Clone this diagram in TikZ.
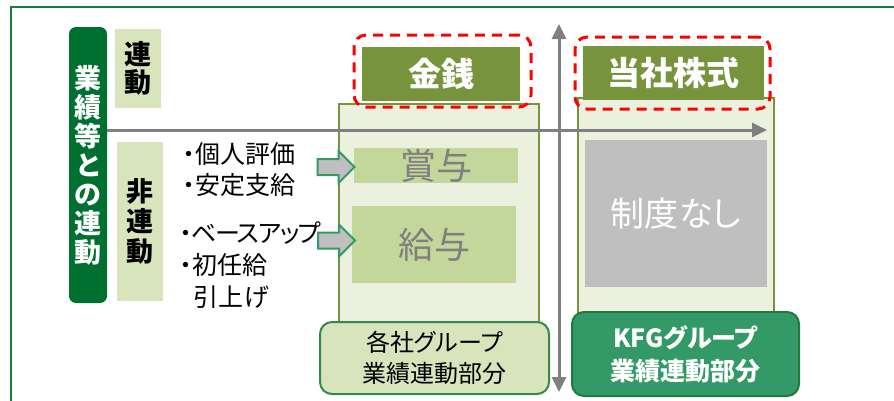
\documentclass[tikz,border=0pt]{standalone}
\usepackage{fontspec}
\setmainfont[RawFeature=+palt]{Noto Sans CJK JP}
\usetikzlibrary{arrows.meta,shapes.arrows}

\definecolor{verdescuro}{RGB}{0,112,48}
\definecolor{verdechiaro}{RGB}{216,228,188}
\definecolor{colonna}{RGB}{235,241,222}
\definecolor{oliva}{RGB}{119,147,60}
\definecolor{voce}{RGB}{196,215,155}
\definecolor{grigioasse}{RGB}{127,127,127}
\definecolor{grigiobox}{RGB}{191,191,191}
\definecolor{verdemedio}{RGB}{51,153,102}
\definecolor{verdebordo}{RGB}{30,123,60}

\begin{document}
\begin{tikzpicture}[x=1pt,y=-1pt]
    % Definizione stili
    \tikzstyle{barra}=[fill=verdescuro, rounded corners=7pt, minimum width=38pt, minimum height=276pt, inner sep=0pt, text=white, align=center, font=\bfseries\fontsize{27pt}{29pt}\selectfont]
    \tikzstyle{etichetta}=[fill=verdechiaro, minimum width=46pt, inner sep=0pt, align=center, font=\bfseries\fontsize{27pt}{28pt}\selectfont]
    \tikzstyle{elenco}=[anchor=west, inner sep=0pt, align=left, font=\fontsize{25pt}{31pt}\selectfont]
    \tikzstyle{colonna}=[draw=oliva, line width=1.5pt, fill=colonna, inner sep=0pt]
    \tikzstyle{testata}=[fill=oliva, inner sep=0pt, minimum height=54pt, text=white, font=\bfseries\fontsize{33pt}{34pt}\selectfont]
    \tikzstyle{evidenza}=[draw=red, line width=3pt, dash pattern=on 10pt off 7pt, rounded corners=12pt, minimum height=72pt, inner sep=0pt]
    \tikzstyle{voce}=[fill=voce, inner sep=0pt, text=grigioasse, font=\fontsize{36pt}{38pt}\selectfont]
    \tikzstyle{freccia}=[single arrow, draw=verdemedio, line width=2pt, fill=grigiobox, minimum height=37pt, inner xsep=0pt, inner ysep=7pt, single arrow head extend=8pt]
    \tikzstyle{asse}=[grigioasse, line width=3pt]
    \tikzstyle{gruppo}=[rounded corners=12pt, line width=2pt, inner sep=0pt, align=center, font=\fontsize{24pt}{31pt}\selectfont]

    % Cornice esterna
    \useasboundingbox (0,0) rectangle (894,400);
    \draw[verdebordo, line width=2pt] (11,7) rectangle (905,410);

    % Barra verticale a sinistra
    \node[barra] (barra_legame) at (88,165) {業\\績\\等\\と\\の\\連\\動};

    % Etichette connesso / non connesso
    \node[etichetta, minimum height=79pt] (lbl_connesso) at (138,68.5) {連\\動};
    \node[etichetta, minimum height=159pt, font=\bfseries\fontsize{27pt}{30pt}\selectfont] (lbl_non_connesso) at (140,221.5) {非\\連\\動};

    % Elenchi dei criteri
    \node[elenco] (crit_bonus) at (183,170) {・個人評価\\・安定支給};
    \node[elenco, font=\fontsize{25pt}{32pt}\selectfont] (crit_stipendio) at (180,265) {{\addfontfeature{LetterSpace=-6}・ベースアップ}\\・初任給\\\hspace{0.55em}引上げ};

    % Colonne
    \node[colonna, minimum width=200pt, minimum height=221pt] (col_denaro) at (439,214.5) {};
    \node[colonna, minimum width=196pt, minimum height=227pt] (col_azioni) at (676,211.5) {};

    % Testate delle colonne (con evidenza tratteggiata)
    \node[testata, minimum width=158pt] (tit_denaro) at (441,74) {金銭};
    \node[evidenza, minimum width=177pt] (evid_denaro) at (442.5,71) {};
    \node[testata, minimum width=181pt] (tit_azioni) at (673.5,73) {当社株式};
    \node[evidenza, minimum width=195pt] (evid_azioni) at (672.5,73) {};

    % Voci interne
    \node[voce, minimum width=164pt, minimum height=35pt] (voce_bonus) at (436,165.5) {賞与};
    \node[voce, minimum width=164pt, minimum height=77pt] (voce_stipendio) at (434,244.5) {給与};
    \node[voce, fill=grigiobox, text=white, minimum width=182pt, minimum height=147pt, font=\fontsize{34pt}{36pt}\selectfont] (voce_nessuno) at (676,213.5) {制度なし};

    % Frecce a blocco verso le voci
    \node[freccia] (fr_bonus) at (332,167) {};
    \node[freccia] (fr_stipendio) at (332.5,240.5) {};

    % Assi
    \coordinate (asse_x0) at (107,130);
    \coordinate (asse_x1) at (767,130);
    \coordinate (asse_y0) at (559,24);
    \coordinate (asse_y1) at (559,392);
    \draw[asse, -{Triangle[length=15pt,width=14pt]}] (asse_x0) -- (asse_x1);
    \draw[asse, {Triangle[length=15pt,width=14pt]}-{Triangle[length=15pt,width=14pt]}] (asse_y0) -- (asse_y1);

    % Riquadri dei gruppi in basso
    \node[gruppo, draw=verdebordo!90, fill=verdechiaro, minimum width=229pt, minimum height=72pt] (gr_societa) at (434.5,358) {各社グループ\\業績連動部分};
    \node[gruppo, draw=verdebordo, fill=verdemedio, text=white, minimum width=227pt, minimum height=84pt, font=\bfseries\fontsize{25pt}{33pt}\selectfont] (gr_kfg) at (685.5,354) {KFGグループ\\業績連動部分};
\end{tikzpicture}
\end{document}
